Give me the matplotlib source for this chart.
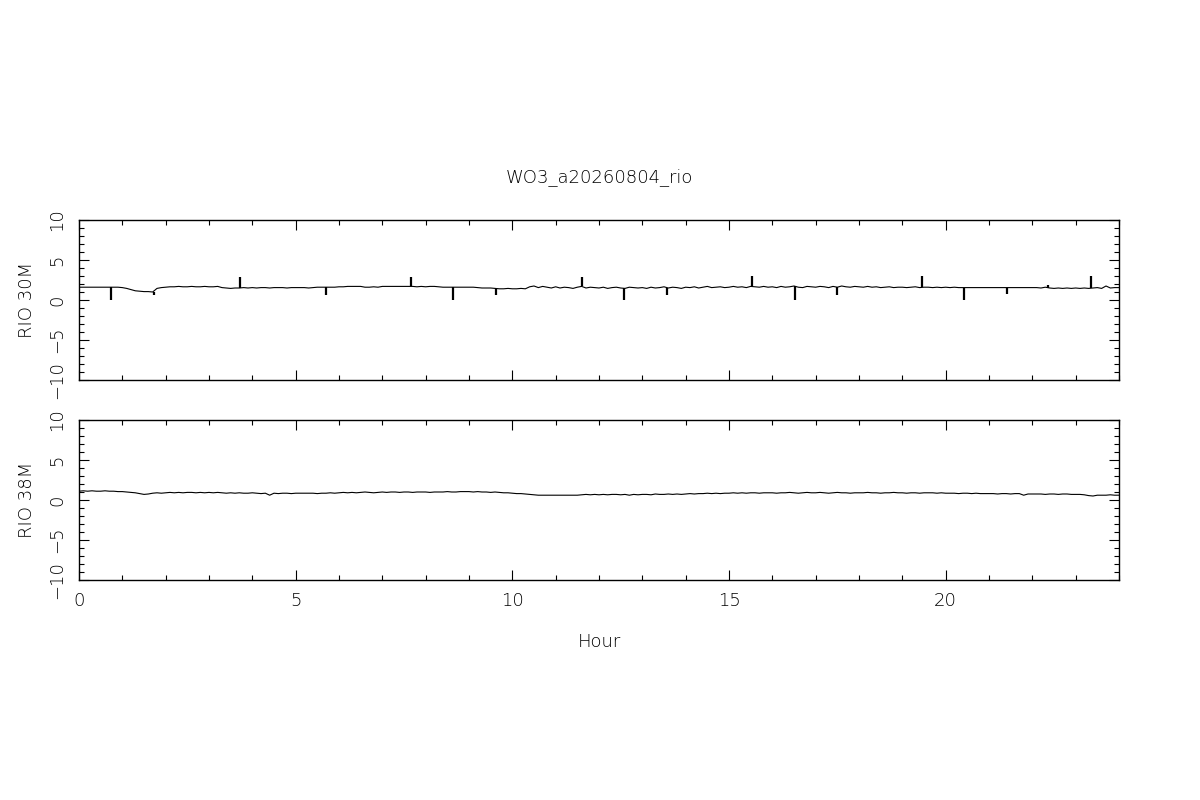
import numpy as np
import matplotlib
matplotlib.use("Agg")
import matplotlib.pyplot as plt
from matplotlib.ticker import MultipleLocator

# ── fonts ────────────────────────────────────────
plt.rcParams["font.family"] = ["DejaVu Sans"]
plt.rcParams["font.weight"] = "light"
plt.rcParams["axes.titleweight"] = "light"
plt.rcParams["axes.labelweight"] = "light"
plt.rcParams["font.size"] = 13

# ── data ─────────────────────────────────────────
TITLE = "WO3_a20260804_rio"
LABELS = ["RIO 30M", "RIO 38M"]
X_LABEL = "Hour"

# samples every 0.1 h, one row per hour (0.0 .. 23.9) + final 24.0
rio30 = [
    1.6, 1.6, 1.6, 1.6, 1.6, 1.6, 1.6, 1.6, 1.6, 1.6,
    1.55, 1.45, 1.3, 1.15, 1.1, 1.05, 1.05, 1.0, 1.45, 1.55,
    1.6, 1.65, 1.65, 1.7, 1.65, 1.65, 1.7, 1.65, 1.65, 1.7,
    1.65, 1.65, 1.7, 1.55, 1.5, 1.45, 1.5, 1.5, 1.55, 1.5,
    1.55, 1.5, 1.55, 1.55, 1.5, 1.55, 1.55, 1.55, 1.5, 1.55,
    1.55, 1.55, 1.55, 1.5, 1.55, 1.6, 1.6, 1.6, 1.6, 1.6,
    1.65, 1.65, 1.7, 1.7, 1.7, 1.7, 1.6, 1.6, 1.65, 1.6,
    1.7, 1.7, 1.7, 1.7, 1.7, 1.7, 1.7, 1.7, 1.65, 1.7,
    1.65, 1.7, 1.7, 1.65, 1.6, 1.6, 1.6, 1.6, 1.6, 1.6,
    1.6, 1.6, 1.55, 1.5, 1.5, 1.5, 1.45, 1.4, 1.4, 1.45,
    1.4, 1.4, 1.45, 1.4, 1.65, 1.75, 1.55, 1.7, 1.6, 1.5,
    1.65, 1.5, 1.6, 1.55, 1.45, 1.6, 1.7, 1.5, 1.6, 1.55,
    1.5, 1.6, 1.45, 1.55, 1.6, 1.5, 1.45, 1.6, 1.55, 1.5,
    1.55, 1.45, 1.6, 1.5, 1.55, 1.65, 1.5, 1.6, 1.55, 1.45,
    1.6, 1.55, 1.65, 1.5, 1.6, 1.7, 1.55, 1.6, 1.65, 1.55,
    1.6, 1.7, 1.6, 1.65, 1.55, 1.7, 1.65, 1.6, 1.7, 1.6,
    1.65, 1.55, 1.7, 1.6, 1.65, 1.75, 1.6, 1.55, 1.7, 1.65,
    1.6, 1.7, 1.65, 1.55, 1.7, 1.6, 1.75, 1.65, 1.6, 1.7,
    1.65, 1.6, 1.7, 1.6, 1.65, 1.55, 1.6, 1.65, 1.55, 1.6,
    1.6, 1.55, 1.6, 1.65, 1.55, 1.6, 1.6, 1.55, 1.6, 1.55,
    1.6, 1.55, 1.6, 1.55, 1.55, 1.55, 1.55, 1.55, 1.55, 1.55,
    1.55, 1.55, 1.55, 1.55, 1.55, 1.55, 1.55, 1.55, 1.55, 1.55,
    1.55, 1.55, 1.5, 1.6, 1.5, 1.45, 1.5, 1.45, 1.5, 1.45,
    1.5, 1.45, 1.5, 1.45, 1.5, 1.55, 1.45, 1.75, 1.5, 1.55,
    1.55,
]

rio38 = [
    1.1, 1.15, 1.1, 1.15, 1.1, 1.1, 1.15, 1.1, 1.1, 1.05,
    1.05, 1.0, 0.95, 0.9, 0.8, 0.7, 0.75, 0.85, 0.9, 0.85,
    0.9, 0.95, 0.9, 0.95, 0.9, 0.95, 0.95, 0.9, 0.95, 0.9,
    0.95, 0.9, 0.95, 0.9, 0.85, 0.9, 0.85, 0.9, 0.85, 0.85,
    0.9, 0.85, 0.8, 0.85, 0.6, 0.85, 0.8, 0.85, 0.85, 0.8,
    0.85, 0.85, 0.85, 0.85, 0.85, 0.8, 0.85, 0.85, 0.9, 0.85,
    0.9, 0.95, 0.9, 0.95, 0.9, 0.95, 1.0, 0.95, 0.9, 0.95,
    1.0, 0.95, 1.0, 1.0, 0.95, 1.0, 1.0, 0.95, 1.0, 1.0,
    1.0, 0.95, 1.0, 1.0, 1.0, 1.05, 1.0, 1.0, 1.05, 1.05,
    1.05, 1.0, 1.05, 1.0, 1.0, 0.95, 1.0, 0.95, 0.9, 0.9,
    0.85, 0.8, 0.8, 0.75, 0.7, 0.65, 0.6, 0.6, 0.6, 0.6,
    0.6, 0.6, 0.6, 0.6, 0.6, 0.6, 0.65, 0.7, 0.65, 0.7,
    0.65, 0.7, 0.65, 0.7, 0.7, 0.65, 0.7, 0.6, 0.7, 0.65,
    0.7, 0.7, 0.65, 0.75, 0.7, 0.7, 0.75, 0.7, 0.75, 0.7,
    0.75, 0.8, 0.75, 0.8, 0.8, 0.85, 0.8, 0.85, 0.8, 0.85,
    0.85, 0.9, 0.85, 0.9, 0.85, 0.9, 0.9, 0.85, 0.9, 0.9,
    0.9, 0.85, 0.9, 0.9, 0.95, 0.9, 0.85, 0.9, 0.95, 0.9,
    0.9, 0.95, 0.9, 0.85, 0.9, 0.95, 0.9, 0.9, 0.85, 0.9,
    0.9, 0.9, 0.95, 0.9, 0.9, 0.85, 0.9, 0.9, 0.95, 0.9,
    0.9, 0.85, 0.9, 0.9, 0.85, 0.9, 0.9, 0.9, 0.85, 0.9,
    0.85, 0.85, 0.85, 0.8, 0.85, 0.85, 0.8, 0.85, 0.8, 0.8,
    0.8, 0.8, 0.75, 0.8, 0.8, 0.75, 0.8, 0.8, 0.6, 0.75,
    0.75, 0.75, 0.75, 0.7, 0.75, 0.75, 0.7, 0.75, 0.75, 0.7,
    0.7, 0.7, 0.65, 0.55, 0.5, 0.6, 0.6, 0.6, 0.65, 0.6,
    0.6,
]

# short glitches in RIO 30M (hour, value reached)
spike_hours = [0.73, 1.73, 3.72, 5.69, 7.65, 8.64, 9.62, 11.60, 12.58,
               13.56, 15.52, 16.52, 17.49, 19.46, 20.42, 21.41, 22.37, 23.35]
spike_values = [0.0, 0.67, 2.85, 0.67, 2.87, 0.0, 0.67, 2.87, 0.0,
                0.67, 3.05, 0.0, 0.67, 3.0, 0.0, 0.73, 1.9, 3.0]

STEP = 0.1

# ── figure ───────────────────────────────────────
fig = plt.figure(figsize=(12, 8), dpi=100)
ax1 = fig.add_axes([79 / 1200, 1 - 380 / 800, 1040 / 1200, 160 / 800])
ax2 = fig.add_axes([79 / 1200, 1 - 580 / 800, 1040 / 1200, 160 / 800])

hours = np.arange(len(rio30)) * STEP

ax1.plot(hours, rio30, color="black", linewidth=0.8)
base = [rio30[int(round(h / STEP))] for h in spike_hours]
ax1.vlines(spike_hours, base, spike_values, color="black", linewidth=1.6)

ax2.plot(np.arange(len(rio38)) * STEP, rio38, color="black", linewidth=0.8)

for ax, lab in zip([ax1, ax2], LABELS):
    ax.set_xlim(0, 24)
    ax.set_ylim(-10, 10)
    ax.xaxis.set_major_locator(MultipleLocator(5))
    ax.xaxis.set_minor_locator(MultipleLocator(1))
    ax.yaxis.set_major_locator(MultipleLocator(5))
    ax.yaxis.set_minor_locator(MultipleLocator(1))
    ax.tick_params(which="both", direction="in", top=True, right=True,
                   width=0.8, colors="black")
    ax.tick_params(which="major", length=7)
    ax.tick_params(which="minor", length=3.6)
    ax.tick_params(axis="y", labelrotation=90, pad=9)
    ax.tick_params(axis="x", pad=9)
    for sp in ax.spines.values():
        sp.set_linewidth(1.0)
    ax.set_ylabel(lab)
    ax.yaxis.set_label_coords(-0.041, 0.5)

for t in ax1.get_yticklabels() + ax2.get_yticklabels():
    t.set_verticalalignment("center")

ax1.tick_params(axis="x", labelbottom=False)
ax2.set_xlabel(X_LABEL, labelpad=16)
ax1.set_title(TITLE, pad=27, fontsize=13)

plt.savefig("out.png", dpi=100)
